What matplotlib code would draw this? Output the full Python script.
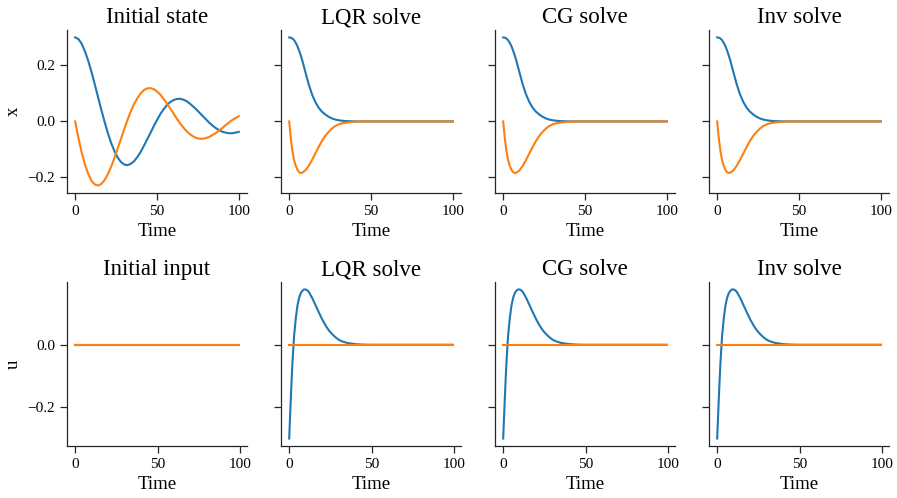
import matplotlib
matplotlib.use("Agg")
import matplotlib.pyplot as plt

# ---------------- data ----------------
t_init = list(range(0, 101, 2))
x1_init = [0.300, 0.294, 0.277, 0.250, 0.216, 0.176, 0.132, 0.086, 0.041, -0.002,
           -0.042, -0.077, -0.106, -0.129, -0.145, -0.154, -0.156, -0.151, -0.142,
           -0.127, -0.109, -0.087, -0.064, -0.041, -0.017, 0.005, 0.026, 0.043,
           0.058, 0.069, 0.076, 0.080, 0.081, 0.078, 0.073, 0.064, 0.054, 0.043,
           0.031, 0.019, 0.007, -0.005, -0.015, -0.024, -0.031, -0.037, -0.040,
           -0.042, -0.042, -0.040, -0.037]
x2_init = [0.000, -0.059, -0.111, -0.154, -0.188, -0.212, -0.225, -0.229, -0.223,
           -0.209, -0.188, -0.161, -0.130, -0.096, -0.062, -0.027, 0.006, 0.036,
           0.062, 0.083, 0.100, 0.112, 0.118, 0.119, 0.115, 0.107, 0.096, 0.081,
           0.065, 0.047, 0.029, 0.011, -0.006, -0.021, -0.034, -0.045, -0.053,
           -0.059, -0.062, -0.062, -0.059, -0.055, -0.048, -0.041, -0.032, -0.023,
           -0.013, -0.004, 0.005, 0.012, 0.019]

t_u_init = [0, 99]
u_init = [0.0, 0.0]

t_sol = [0, 1, 2, 3, 4, 5, 6, 7, 8, 10, 12, 14, 16, 18, 20, 22, 24, 26, 28, 30,
         32, 35, 40, 45, 50, 60, 70, 80, 90, 100]
x1_sol = [0.300, 0.299, 0.296, 0.290, 0.281, 0.269, 0.254, 0.237, 0.218, 0.174,
          0.131, 0.096, 0.069, 0.049, 0.035, 0.025, 0.017, 0.011, 0.007, 0.0045,
          0.0028, 0.0012, 0.0002, 0.0, 0.0, 0.0, 0.0, 0.0, 0.0, 0.0]
x2_sol = [0.000, -0.060, -0.106, -0.138, -0.158, -0.172, -0.181, -0.184, -0.183,
          -0.174, -0.158, -0.137, -0.114, -0.091, -0.070, -0.052, -0.038, -0.026,
          -0.017, -0.011, -0.007, -0.004, -0.001, 0.0, 0.0, 0.0, 0.0, 0.0, 0.0, 0.0]

t_u_sol = [0, 0.5, 1, 1.5, 2, 2.5, 3, 4, 5, 6, 7, 8, 9, 10, 11, 12, 14, 16, 18, 20,
           22, 24, 26, 28, 30, 32, 35, 40, 45, 50, 60, 70, 80, 90, 99]
u1_sol = [-0.300, -0.235, -0.170, -0.110, -0.056, -0.010, 0.030, 0.085, 0.125, 0.150,
          0.165, 0.173, 0.177, 0.177, 0.174, 0.168, 0.149, 0.126, 0.103, 0.081,
          0.062, 0.046, 0.034, 0.024, 0.016, 0.011, 0.006, 0.002, 0.0005, 0.0,
          0.0, 0.0, 0.0, 0.0, 0.0]
u2_sol = [0.0] * len(t_u_sol)

titles_top = ["Initial state", "LQR solve", "CG solve", "Inv solve"]
titles_bot = ["Initial input", "LQR solve", "CG solve", "Inv solve"]
xticks = [0, 50, 100]

# ---------------- styling ----------------
plt.rcParams["font.family"] = ["Liberation Serif", "DejaVu Serif"]
plt.rcParams["axes.unicode_minus"] = True
blue = "#1f77b4"
orange = "#ff7f0e"

W, H = 897, 498
fig = plt.figure(figsize=(W / 100, H / 100), dpi=100)

lefts = [67, 281, 495, 709]
width = 180
rows = [(30, 193), (282, 446)]

axes = [[None] * 4 for _ in range(2)]
for r, (top, bot) in enumerate(rows):
    for c, l in enumerate(lefts):
        share = axes[r][0] if c > 0 else None
        ax = fig.add_axes([l / W, 1 - bot / H, width / W, (bot - top) / H], sharey=share)
        axes[r][c] = ax

state_data = [(t_init, x1_init, t_init, x2_init)] + [(t_sol, x1_sol, t_sol, x2_sol)] * 3
input_data = [(t_u_init, u_init, t_u_init, u_init)] + [(t_u_sol, u1_sol, t_u_sol, u2_sol)] * 3

for c in range(4):
    ta, a, tb, b = state_data[c]
    ax = axes[0][c]
    ax.plot(ta, a, color=blue, lw=1.5)
    ax.plot(tb, b, color=orange, lw=1.5)
    ax.set_title(titles_top[c], fontsize=16.5, pad=5)

    ta, a, tb, b = input_data[c]
    ax = axes[1][c]
    ax.plot(ta, a, color=blue, lw=1.5)
    ax.plot(tb, b, color=orange, lw=1.5)
    ax.set_title(titles_bot[c], fontsize=16.5, pad=5)

for r in range(2):
    for c in range(4):
        ax = axes[r][c]
        ax.set_xticks(xticks)
        ax.set_xlabel("Time", fontsize=13.5, labelpad=4)
        ax.spines["top"].set_visible(False)
        ax.spines["right"].set_visible(False)
        for s in ("left", "bottom"):
            ax.spines[s].set_linewidth(0.9)
            ax.spines[s].set_color("#262626")
        ax.tick_params(axis="both", labelsize=11, length=5, width=0.9,
                       color="#262626", pad=3.5)
        if c > 0:
            ax.tick_params(axis="y", labelleft=False)

axes[0][0].set_yticks([-0.2, 0.0, 0.2])
axes[1][0].set_yticks([-0.2, 0.0])
axes[0][0].set_ylabel("x", fontsize=13.5)
axes[1][0].set_ylabel("u", fontsize=13.5)

fig.savefig("out.png", dpi=100)
